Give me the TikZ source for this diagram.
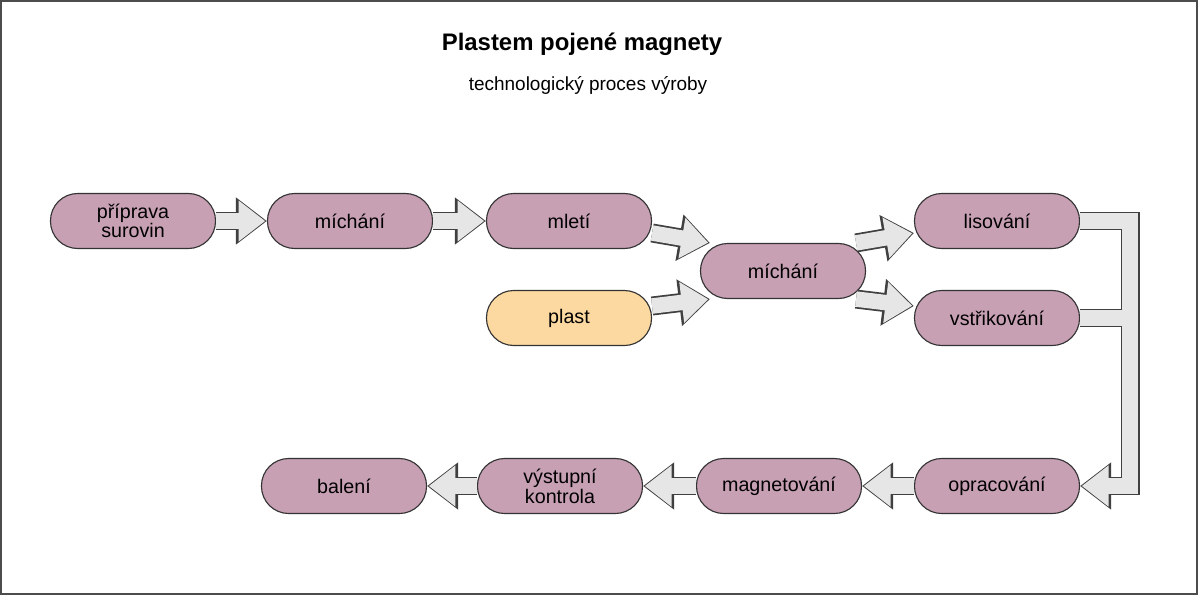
\documentclass[tikz,border=0pt]{standalone}
\usepackage{fontspec}
\setmainfont{Liberation Sans}
\usetikzlibrary{arrows.meta,positioning}
\definecolor{mauve}{RGB}{200,160,180}
\definecolor{peach}{RGB}{252,217,160}
\definecolor{shaft}{RGB}{230,230,230}
\tikzset{
	box/.style={draw=black!80,thick,fill=mauve,rounded corners=0.68cm,minimum width=4.125cm,minimum height=1.375cm,align=center,font=\fontsize{14}{14}\selectfont,inner sep=1pt},
	outer/.style={draw=black!75,line width=13.5pt,-{Triangle[length=22pt,width=32pt]}},
	inner/.style={draw=shaft,line width=11pt,shorten >=1.2pt,-{Triangle[length=19pt,width=28pt]}}
}
\newcommand{\blkarrow}[1]{\draw[outer] #1; \draw[inner] #1;}

\begin{document}
\begin{tikzpicture}[x=0.025cm,y=-0.025cm]
	\useasboundingbox (0,0) rectangle (1200,597);
	\draw[black!70,thick] (1,1) rectangle (1197,594);
	
	%Titulek
	\node[font=\bfseries\fontsize{17}{17}\selectfont] (title) at (582,44) {Plastem pojené magnety};
	\node[font=\fontsize{13.5}{13.5}\selectfont] (sub) at (588,85) {technologický proces výroby};
	
	%Bloky
	\node[box] (prip) at (133,221) {příprava\\surovin};
	\node[box] (mich1) at (350,221) {míchání};
	\node[box] (mlet) at (569,221) {mletí};
	\node[box] (plast) at (569,318) [fill=peach] {plast};
	\node[box] (mich2) at (783,271) {míchání};
	\node[box] (lis) at (997,221) {lisování};
	\node[box] (vstr) at (997,318) {vstřikování};
	\node[box] (oprac) at (997,486) {opracování};
	\node[box] (magn) at (779,486) {magnetování};
	\node[box] (kontr) at (560,486) {výstupní\\kontrola};
	\node[box] (bal) at (344,486) {balení};
	
	%Body zlomu
	\coordinate (rohL) at (1130,221);
	\coordinate (rohV) at (1130,318);
	
	%Sipky
	\blkarrow{(prip.east) -- (mich1.west)}
	\blkarrow{(mich1.east) -- (mlet.west)}
	\blkarrow{([yshift=-0.3cm]mlet.east) -- ([xshift=0.25cm]mich2.north west)}
	\blkarrow{([yshift=0.3cm]plast.east) -- ([xshift=0.25cm]mich2.south west)}
	\blkarrow{([xshift=-0.25cm]mich2.north east) -- ([yshift=-0.3cm]lis.west)}
	\blkarrow{([xshift=-0.25cm]mich2.south east) -- ([yshift=0.3cm]vstr.west)}
	\blkarrow{(magn.west) -- (kontr.east)}
	\blkarrow{(kontr.west) -- (bal.east)}
	\blkarrow{(oprac.west) -- (magn.east)}
	
	%Zpetna vetev
	\draw[outer,-] (lis.east) -- (rohL) -- (rohV);
	\draw[outer] (vstr.east) -- (rohV) |- (oprac.east);
	\draw[inner,-] (lis.east) -- (rohL) -- (rohV);
	\draw[inner] (vstr.east) -- (rohV) |- (oprac.east);
\end{tikzpicture}
\end{document}
